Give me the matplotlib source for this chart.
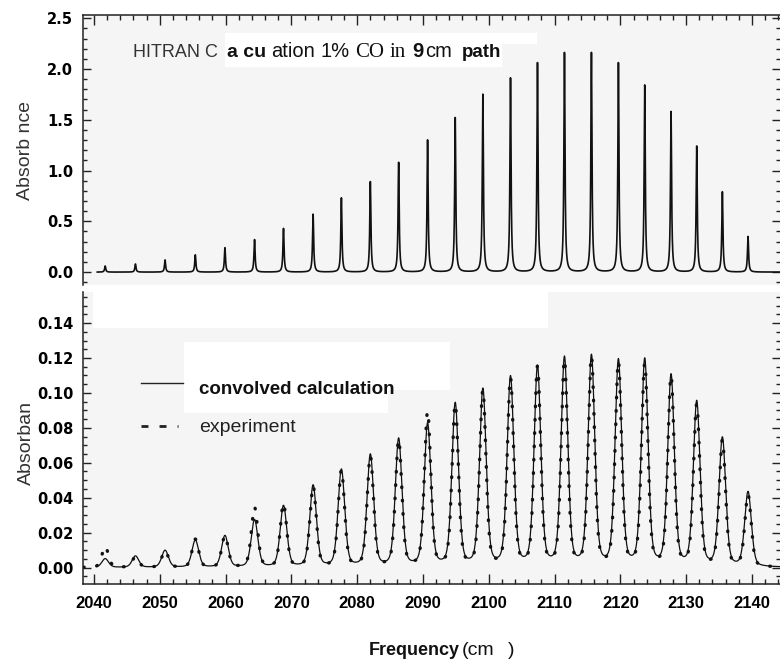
import numpy as np
import matplotlib
matplotlib.use('Agg')
import matplotlib.pyplot as plt
from matplotlib.patches import Rectangle
from matplotlib.lines import Line2D
from matplotlib.ticker import MultipleLocator, FormatStrFormatter

W, H = 780, 665

# CO fundamental P-branch line centres [cm-1]
line_pos = [2041.7, 2046.3, 2050.8, 2055.4, 2059.9, 2064.4, 2068.8, 2073.3,
            2077.6, 2082.0, 2086.3, 2090.7, 2094.9, 2099.1, 2103.3, 2107.4,
            2111.5, 2115.6, 2119.7, 2123.7, 2127.7, 2131.6, 2135.5, 2139.4]
# peak absorbance, HITRAN calculation (top panel)
hitran_abs = [0.06, 0.08, 0.12, 0.17, 0.24, 0.32, 0.43, 0.57, 0.73, 0.89, 1.08, 1.30,
              1.52, 1.75, 1.91, 2.06, 2.16, 2.16, 2.06, 1.84, 1.58, 1.24, 0.79, 0.35]
# peak absorbance, convolved calculation (bottom panel)
calc_abs = [0.005, 0.0065, 0.0097, 0.0155, 0.018, 0.027, 0.035, 0.0466, 0.0555, 0.064,
            0.073, 0.0815, 0.093, 0.101, 0.108, 0.1138, 0.119, 0.120, 0.1175, 0.118,
            0.109, 0.094, 0.0735, 0.0427]
# peak absorbance, experiment (bottom panel)
exp_abs = [0.012, 0.006, 0.0095, 0.016, 0.018, 0.034, 0.036, 0.046, 0.055, 0.063,
           0.072, 0.088, 0.092, 0.100, 0.107, 0.1135, 0.117, 0.119, 0.116, 0.115,
           0.108, 0.092, 0.072, 0.041]
x_ticks = list(range(2040, 2141, 10))


def fx(x):
    return x / W


def fy(y):
    return 1 - y / H


def white_box(fig, x0, y0, x1, y1):
    fig.add_artist(Rectangle((fx(x0), fy(y1)), (x1 - x0) / W, (y1 - y0) / H,
                             transform=fig.transFigure, facecolor='white',
                             edgecolor='none', zorder=10))


def profile(nu, pos, heights, fwhm, eta):
    out = np.zeros_like(nu)
    for p, h in zip(pos, heights):
        d = 4 * (nu - p) ** 2 / fwhm ** 2
        out += h * ((1 - eta) * np.exp(-np.log(2) * d) + eta / (1 + d))
    return out


nu = np.arange(2040.5, 2144.3, 0.01)
hitran = profile(nu, line_pos, hitran_abs, 0.2, 1.0)
calc = profile(nu, line_pos, calc_abs, 1.2, 0.3)
nu_e = np.arange(2038.4, 2144.3, 0.01)
expt = profile(nu_e, line_pos, exp_abs, 1.15, 0.3)

fig = plt.figure(figsize=(7.8, 6.65), dpi=100)
ax1 = fig.add_axes([fx(83), fy(285), 1 - fx(83), 270 / H])
ax2 = fig.add_axes([fx(83), fy(584), 1 - fx(83), 292 / H], sharex=ax1)

bg = '#f5f5f5'
for ax in (ax1, ax2):
    ax.set_facecolor(bg)
    ax.xaxis.set_major_locator(MultipleLocator(10))
    ax.xaxis.set_minor_locator(MultipleLocator(2))
    ax.tick_params(axis='both', which='both', direction='in', color='#222', width=1)
    ax.tick_params(axis='y', which='major', length=6, left=True, right=True)
    ax.tick_params(axis='y', which='minor', length=3, left=True, right=True)
    ax.tick_params(axis='x', which='major', length=7)
    ax.tick_params(axis='x', which='minor', length=3.5)
    ax.spines['right'].set_visible(False)
    for s in ax.spines.values():
        s.set_color('#222')
        s.set_linewidth(1.1)

ax1.plot(nu, hitran, color='#111', lw=1.2)
ax1.set_xlim(2038.33, 2144.26)
ax1.set_ylim(-0.127, 2.532)
ax1.yaxis.set_major_locator(MultipleLocator(0.5))
ax1.yaxis.set_minor_locator(MultipleLocator(0.1))
ax1.yaxis.set_major_formatter(FormatStrFormatter('%.1f'))
ax1.spines['bottom'].set_visible(False)
ax1.tick_params(axis='x', which='both', top=True, bottom=False,
                labelbottom=False, labeltop=False)

ax2.plot(nu, calc, color='#111', lw=0.9)
ax2.plot(nu_e, expt, color='#111', lw=2.4, linestyle=(0, (0.2, 3.8)),
         dash_capstyle='round')
ax2.set_ylim(-0.00945, 0.1578)
ax2.yaxis.set_major_locator(MultipleLocator(0.02))
ax2.yaxis.set_minor_locator(MultipleLocator(0.005))
ax2.yaxis.set_major_formatter(FormatStrFormatter('%.2f'))
ax2.spines['top'].set_visible(False)
ax2.tick_params(axis='x', which='both', top=False, bottom=True)
ax2.set_xticks(x_ticks)

for ax in (ax1, ax2):
    ax.tick_params(axis='y', pad=7)
    for lab in ax.get_yticklabels():
        lab.set_fontfamily('DejaVu Sans')
        lab.set_fontweight('bold')
        lab.set_fontsize(10.5)
ax2.tick_params(axis='x', pad=8.5)
for lab in ax2.get_xticklabels():
    lab.set_fontfamily('Liberation Sans')
    lab.set_fontweight('bold')
    lab.set_fontsize(12)

# pasted-over white patches of the original scan
white_box(fig, 225, 33, 537, 44)
white_box(fig, 225, 44, 502, 67)
white_box(fig, 93, 286, 548, 328)
white_box(fig, 184, 342, 450, 390)
white_box(fig, 184, 390, 388, 413)

fig.text(fx(133), fy(57), 'HITRAN C', color='#333', fontsize=13,
         family='Liberation Sans', va='baseline', zorder=9)
pieces = [(227, 'a cu', 'Liberation Sans', 'bold', 14),
          (271, 'ation', 'Liberation Sans', 'normal', 14.5),
          (320, '1%', 'Liberation Sans', 'normal', 14.5),
          (355, 'CO', 'Liberation Serif', 'normal', 15),
          (390, 'in', 'Liberation Serif', 'normal', 15),
          (412, '9', 'Liberation Sans', 'bold', 14.5),
          (425, 'cm', 'Liberation Sans', 'normal', 14.5),
          (462, 'path', 'Liberation Sans', 'bold', 13.5)]
for x, s, fam, wt, sz in pieces:
    fig.text(fx(x), fy(57), s, family=fam, fontweight=wt, fontsize=sz,
             color='#111', va='baseline', zorder=11)

# legend
fig.add_artist(Line2D([fx(141), fx(183)], [fy(383), fy(383)], color='#222', lw=1,
                      transform=fig.transFigure, zorder=11))
fig.add_artist(Line2D([fx(141), fx(178)], [fy(426), fy(426)], color='#222', lw=2,
                      linestyle=(0, (2.5, 4)), transform=fig.transFigure, zorder=11))
fig.text(fx(199), fy(394), 'convolved calculation', family='Liberation Sans',
         fontweight='bold', fontsize=13.5, color='#111', va='baseline', zorder=11)
fig.text(fx(199), fy(432), 'experiment', family='Liberation Sans',
         fontsize=14, color='#222', va='baseline', zorder=11)

# axis labels
fig.text(fx(26), fy(150), 'Absorb nce', rotation=90, family='Liberation Sans',
         fontsize=14, color='#333', ha='center', va='center')
fig.text(fx(26), fy(443), 'Absorban', rotation=90, family='Liberation Sans',
         fontsize=14, color='#333', ha='center', va='center')
fig.text(fx(369), fy(655), 'Frequency', family='Liberation Sans', fontweight='bold',
         fontsize=13, color='#111', va='baseline')
fig.text(fx(462), fy(655), '(cm', family='Liberation Sans', fontsize=14,
         color='#111', va='baseline')
fig.text(fx(508), fy(655), ')', family='Liberation Sans', fontsize=14,
         color='#111', va='baseline')

fig.savefig('out.png', dpi=100)
